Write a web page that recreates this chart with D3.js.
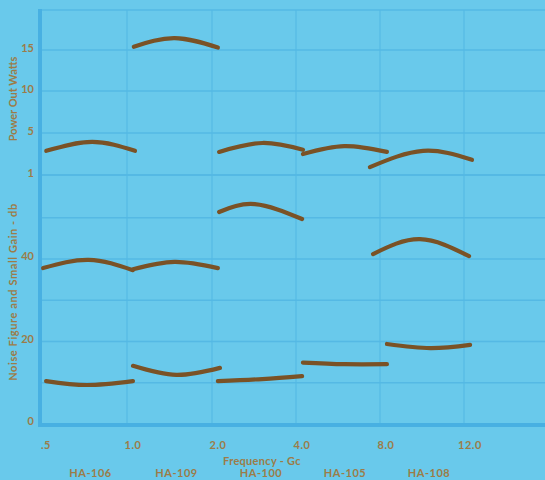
<!DOCTYPE html>
<html>
<head>
<meta charset="utf-8">
<script src="https://cdn.jsdelivr.net/npm/d3@7"></script>
<style>
  html, body { margin: 0; padding: 0; background: #69c9eb; }
  svg { display: block; }
  text { font-family: Lato, "DejaVu Sans", sans-serif; font-weight: bold; fill: #9c7c48; }
</style>
</head>
<body>
<svg id="chart" width="545" height="480"></svg>
<script>
// ---- data ----
const xTicks = [0.5, 1, 2, 4, 8, 12];
const xTickLabels = [".5", "1.0", "2.0", "4.0", "8.0", "12.0"];
const models = ["HA-106", "HA-109", "HA-100", "HA-105", "HA-108"];
const powerTicks = [1, 5, 10, 15];
const powerTickLabels = ["1", "5", "10", "15"];
const dbTicks = [0, 20, 40];
const dbGrid = [0, 10, 20, 30, 40, 50];

// Power out (watts) vs frequency (Gc)
const ha106Power = [[0.536, 3.3], [0.80, 4.15], [1.094, 3.3]];
const ha109Power = [[1.08, 15.4], [1.56, 16.45], [2.14, 15.3]];
const ha100Power = [[2.17, 3.2], [3.2, 4.05], [4.33, 3.4]];
const ha105Power = [[4.33, 3.0], [6.3, 3.75], [8.33, 3.2]];
const ha108Power = [[7.52, 1.75], [10.05, 3.3], [12.38, 2.45]];

// Small signal gain (db)
const ha106Gain = [[0.518, 37.8], [0.78, 39.8], [1.07, 37.3]];
const ha109Gain = [[1.07, 37.5], [1.56, 39.3], [2.14, 37.8]];
const ha100Gain = [[2.17, 51.4], [3.02, 53.3], [4.29, 49.7]];
const ha108Gain = [[7.67, 41.2], [9.9, 44.8], [12.24, 40.7]];

// Noise figure (db)
const ha106Noise = [[0.535, 10.4], [0.77, 9.45], [1.07, 10.4]];
const ha109Noise = [[1.07, 14.1], [1.58, 11.9], [2.19, 13.6]];
const ha100Noise = [[2.14, 10.4], [3.2, 10.9], [4.29, 11.6]];
const ha105Noise = [[4.33, 14.9], [6.3, 14.5], [8.33, 14.5]];
const ha108Noise = [[8.33, 19.4], [10.4, 18.4], [12.29, 19.2]];

const powerCurves = [ha106Power, ha109Power, ha100Power, ha105Power, ha108Power];
const dbCurves = [ha106Gain, ha109Gain, ha100Gain, ha108Gain,
                  ha106Noise, ha109Noise, ha100Noise, ha105Noise, ha108Noise];

// ---- drawing ----
const W = 545, H = 480;
const svg = d3.select("#chart");
svg.append("rect").attr("width", W).attr("height", H).attr("fill", "#69c9eb");

const x = d3.scaleLinear().domain(xTicks).range([40, 127, 212, 296, 380, 464]);
const yP = d3.scaleLinear().domain(powerTicks).range([175, 133, 91, 50]);
const yD = d3.scaleLinear().domain([0, 40]).range([424, 259]);

const gridColor = "#55b9e4";
const axisColor = "#48b0e2";
const plotTop = 10, plotRight = W;

const grid = svg.append("g");
grid.selectAll(".hp").data(powerTicks).join("line")
  .attr("x1", x(0.5)).attr("x2", plotRight)
  .attr("y1", d => yP(d)).attr("y2", d => yP(d))
  .attr("stroke", gridColor).attr("stroke-width", d => d === 1 ? 2 : 1.3);
grid.selectAll(".hd").data(dbGrid.slice(1)).join("line")
  .attr("x1", x(0.5)).attr("x2", plotRight)
  .attr("y1", d => yD(d)).attr("y2", d => yD(d))
  .attr("stroke", gridColor).attr("stroke-width", 1.3);
grid.append("line").attr("x1", x(0.5)).attr("x2", plotRight)
  .attr("y1", plotTop).attr("y2", plotTop)
  .attr("stroke", gridColor).attr("stroke-width", 1.5);
grid.selectAll(".v").data(xTicks.slice(1)).join("line")
  .attr("x1", d => x(d)).attr("x2", d => x(d))
  .attr("y1", plotTop).attr("y2", yD(0))
  .attr("stroke", gridColor).attr("stroke-width", 1.1);
svg.append("line").attr("x1", x(0.5)).attr("x2", x(0.5))
  .attr("y1", plotTop - 1).attr("y2", yD(0) + 3)
  .attr("stroke", axisColor).attr("stroke-width", 4);
svg.append("line").attr("x1", x(0.5) - 2).attr("x2", plotRight)
  .attr("y1", yD(0) + 1).attr("y2", yD(0) + 1)
  .attr("stroke", axisColor).attr("stroke-width", 4);

// curves
const curveColor = "#7a5226";
const lineP = d3.line().x(d => x(d[0])).y(d => yP(d[1])).curve(d3.curveNatural);
const lineD = d3.line().x(d => x(d[0])).y(d => yD(d[1])).curve(d3.curveNatural);
svg.append("g").selectAll("path").data(powerCurves).join("path")
  .attr("d", lineP).attr("fill", "none").attr("stroke", curveColor)
  .attr("stroke-width", 4.2).attr("stroke-linecap", "round");
svg.append("g").selectAll("path").data(dbCurves).join("path")
  .attr("d", lineD).attr("fill", "none").attr("stroke", curveColor)
  .attr("stroke-width", 4.2).attr("stroke-linecap", "round");

// y tick labels
svg.append("g").selectAll("text").data(powerTicks).join("text")
  .attr("x", 34).attr("y", d => yP(d) + 2)
  .attr("text-anchor", "end").attr("font-size", 11)
  .text((d, i) => powerTickLabels[i]);
svg.append("g").selectAll("text").data(dbTicks).join("text")
  .attr("x", 34).attr("y", d => yD(d) + 1)
  .attr("text-anchor", "end").attr("font-size", 11)
  .text(d => d);

// x tick labels
svg.append("g").selectAll("text").data(xTicks).join("text")
  .attr("x", d => x(d) + 6).attr("y", 449)
  .attr("text-anchor", "middle").attr("font-size", 11)
  .attr("letter-spacing", 0.5)
  .text((d, i) => xTickLabels[i]);

svg.append("text").attr("x", 262).attr("y", 465)
  .attr("text-anchor", "middle").attr("font-size", 11)
  .attr("letter-spacing", 0.3)
  .text("Frequency - Gc");

svg.append("g").selectAll("text").data(models).join("text")
  .attr("x", (d, i) => (x(xTicks[i]) + x(xTicks[i + 1])) / 2 + 7)
  .attr("y", 477).attr("text-anchor", "middle").attr("font-size", 11)
  .attr("letter-spacing", 0.5)
  .text(d => d);

// y titles
svg.append("text").attr("transform", "translate(17,99) rotate(-90)")
  .attr("text-anchor", "middle").attr("font-size", 11)
  .text("Power Out Watts");
svg.append("text").attr("transform", "translate(17,292) rotate(-90)")
  .attr("text-anchor", "middle").attr("font-size", 11)
  .attr("letter-spacing", 0.6)
  .text("Noise Figure and Small Gain - db");
</script>
</body>
</html>
